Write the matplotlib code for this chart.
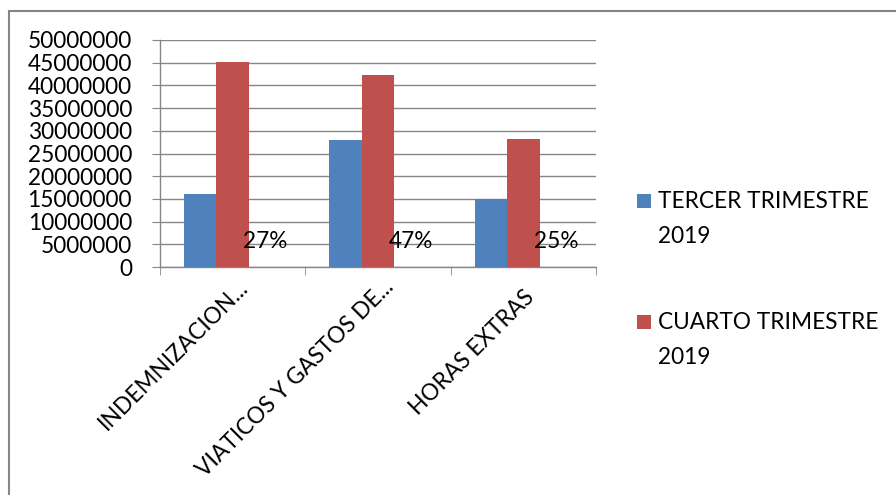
import numpy as np
import matplotlib
matplotlib.use("Agg")
import matplotlib.pyplot as plt
from matplotlib.patches import Rectangle
from matplotlib.ticker import FixedLocator, FuncFormatter
from matplotlib.transforms import ScaledTranslation

categories = ["INDEMNIZACION...", "VIATICOS Y GASTOS DE...", "HORAS EXTRAS"]
tercer = [16000000, 27900000, 14900000]
cuarto = [45200000, 42400000, 28100000]
pct_labels = ["27%", "47%", "25%"]
series_names = ["TERCER TRIMESTRE\n2019", "CUARTO TRIMESTRE\n2019"]
y_ticks = list(range(0, 50000001, 5000000))

BLUE = "#4F81BD"
RED = "#C0504D"
GRID = "#868686"

W, H = 896, 495
plt.rcParams["font.family"] = ["Lato", "DejaVu Sans"]
FS = 16.3

fig = plt.figure(figsize=(W / 100, H / 100), dpi=100)


def px(x, y):
    return x / W, 1 - y / H


l, t = px(160, 40)
r, b = px(596, 267)
ax = fig.add_axes([l, b, r - l, t - b])

x = np.arange(len(categories))
bw = 0.224
ax.bar(x - bw, tercer, bw, color=BLUE, zorder=3)
ax.bar(x, cuarto, bw, color=RED, zorder=3)
# third (empty) series carries the percentage labels
for xi, lab in zip(x, pct_labels):
    ax.annotate(lab, (xi + bw, 0), xytext=(0, 19 * 0.72), textcoords="offset points",
                ha="center", va="baseline", fontsize=FS, zorder=4)

ax.set_xlim(-0.5, len(categories) - 0.5)
ax.set_ylim(0, 50000000)
ax.set_yticks(y_ticks)
ax.yaxis.set_major_formatter(FuncFormatter(lambda v, p: f"{int(v)}"))
ax.grid(axis="y", color=GRID, linewidth=1.0, zorder=0)
ax.tick_params(axis="y", length=8 * 0.72, color=GRID, labelsize=FS, pad=20 * 0.72)

ax.set_xticks(x)
ax.set_xticklabels(categories, rotation=45, ha="right", va="top", rotation_mode="anchor", fontsize=FS)
ax.xaxis.set_minor_locator(FixedLocator(np.arange(len(categories) + 1) - 0.5))
ax.tick_params(axis="x", which="major", length=0, pad=14)
ax.tick_params(axis="x", which="minor", length=8 * 0.72, color=GRID)

# nudge the rotated labels (pixels), Excel puts the truncated ones a bit higher
label_shift = [(5, -10), (5, -10), (0, 0)]
for lab, (dx, dy) in zip(ax.get_xticklabels(), label_shift):
    lab.set_transform(lab.get_transform() + ScaledTranslation(dx / 100, -dy / 100, fig.dpi_scale_trans))

for s in ["top", "right"]:
    ax.spines[s].set_visible(False)
for s in ["left", "bottom"]:
    ax.spines[s].set_color(GRID)
    ax.spines[s].set_linewidth(1.0)

# legend drawn by hand, Excel style
entries = [(BLUE, 194), (RED, 315)]
for (col, ytop), name in zip(entries, series_names):
    x0, y0 = px(637, ytop + 14)
    fig.patches.append(Rectangle((x0, y0), 14 / W, 14 / H, transform=fig.transFigure,
                                 facecolor=col, edgecolor="none"))
    for k, line in enumerate(name.split("\n")):
        tx, ty = px(658, ytop + 14 + 35 * k)
        fig.text(tx, ty, line, fontsize=FS, va="baseline", ha="left")

# chart border
bx, by = px(9, 11)
fig.patches.append(Rectangle((bx, -0.1), 1.2, by + 0.1, transform=fig.transFigure,
                             facecolor="none", edgecolor=GRID, linewidth=1.5))

fig.savefig("out.png", dpi=100)
